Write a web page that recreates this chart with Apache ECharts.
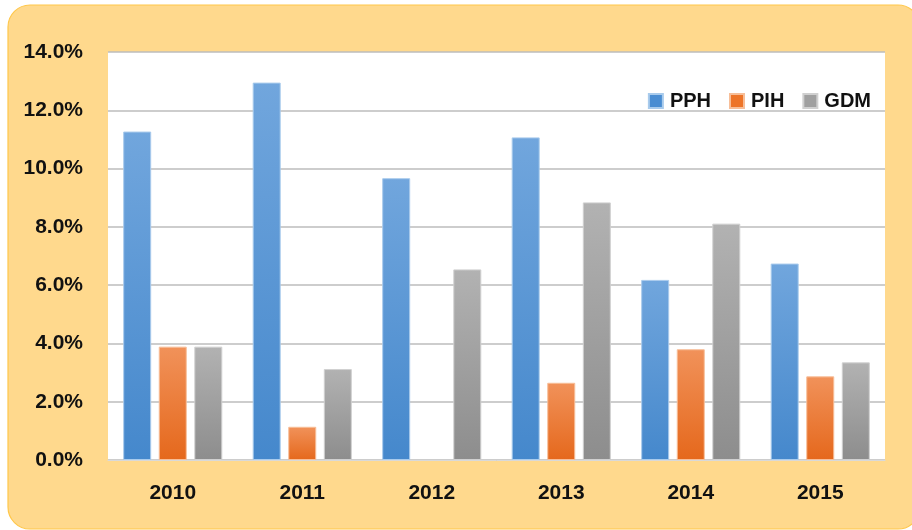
<!DOCTYPE html>
<html>
<head>
<meta charset="utf-8">
<script src="https://cdn.jsdelivr.net/npm/echarts@6/dist/echarts.min.js"></script>
<style>html,body{margin:0;padding:0;background:#fff;}#c{width:912px;height:530px;}</style>
</head>
<body>
<div id="c"></div>
<script>
const categories = ['2010', '2011', '2012', '2013', '2014', '2015'];
const seriesNames = ['PPH', 'PIH', 'GDM'];
const pph = [11.27, 12.95, 9.67, 11.07, 6.18, 6.74];
const pih = [3.89, 1.14, 0, 2.65, 3.80, 2.87];
const gdm = [3.89, 3.12, 6.54, 8.84, 8.11, 3.35];
const yTicks = [0, 2, 4, 6, 8, 10, 12, 14];

const chart = echarts.init(document.getElementById('c'), null, {renderer: 'canvas'});
const font = '"Liberation Sans", Arial, sans-serif';
function grad(top, bottom) {
  return new echarts.graphic.LinearGradient(0, 0, 0, 1, [
    {offset: 0, color: top}, {offset: 1, color: bottom}
  ]);
}
const styles = [
  {top: '#71A6DD', bottom: '#4588CC', border: '#A9CBEC', legend: '#4A8DD2'},
  {top: '#F1925A', bottom: '#E5681C', border: '#F7BE98', legend: '#ED7428'},
  {top: '#B2B2B2', bottom: '#8D8D8D', border: '#D0D0D0', legend: '#A0A0A0'}
];
const data = [pph, pih, gdm];

chart.setOption({
  backgroundColor: '#ffffff',
  animation: false,
  graphic: [{
    type: 'rect',
    z: -10,
    shape: {x: 8, y: 5, width: 912, height: 524, r: 22},
    style: {fill: '#FFD98D', stroke: '#FFC74A', lineWidth: 1.2}
  }],
  grid: {
    left: 108, right: 27, top: 52, bottom: 70,
    show: true, backgroundColor: '#ffffff', borderWidth: 0
  },
  legend: {
    data: seriesNames.map((n, i) => ({name: n, itemStyle: {color: styles[i].legend}})),
    right: 36, top: 86,
    icon: 'rect', itemWidth: 14, itemHeight: 14, itemGap: 18,
    textStyle: {fontFamily: font, fontWeight: 'bold', fontSize: 20, color: '#111', padding: [0, 0, 0, 2]}
  },
  xAxis: {
    type: 'category',
    data: categories,
    axisLine: {show: true, lineStyle: {color: '#D9D9D9', width: 1}},
    axisTick: {show: false},
    axisLabel: {fontFamily: font, fontWeight: 'bold', fontSize: 21, color: '#111', margin: 23}
  },
  yAxis: {
    type: 'value',
    min: yTicks[0], max: yTicks[yTicks.length - 1], interval: 2,
    axisLine: {show: false},
    axisTick: {show: false},
    splitLine: {lineStyle: {color: '#BDBDBD', width: 1.5}},
    axisLabel: {
      fontFamily: font, fontWeight: 'bold', fontSize: 21, color: '#111', margin: 25,
      formatter: v => v.toFixed(1) + '%'
    }
  },
  series: seriesNames.map((n, i) => ({
    name: n,
    type: 'bar',
    data: data[i].map(v => v === 0 ? {value: v, itemStyle: {borderWidth: 0}} : v),
    barWidth: 28,
    barGap: '27%',
    itemStyle: {
      color: grad(styles[i].top, styles[i].bottom),
      borderColor: styles[i].border,
      borderWidth: 1
    }
  }))
});
</script>
</body>
</html>
